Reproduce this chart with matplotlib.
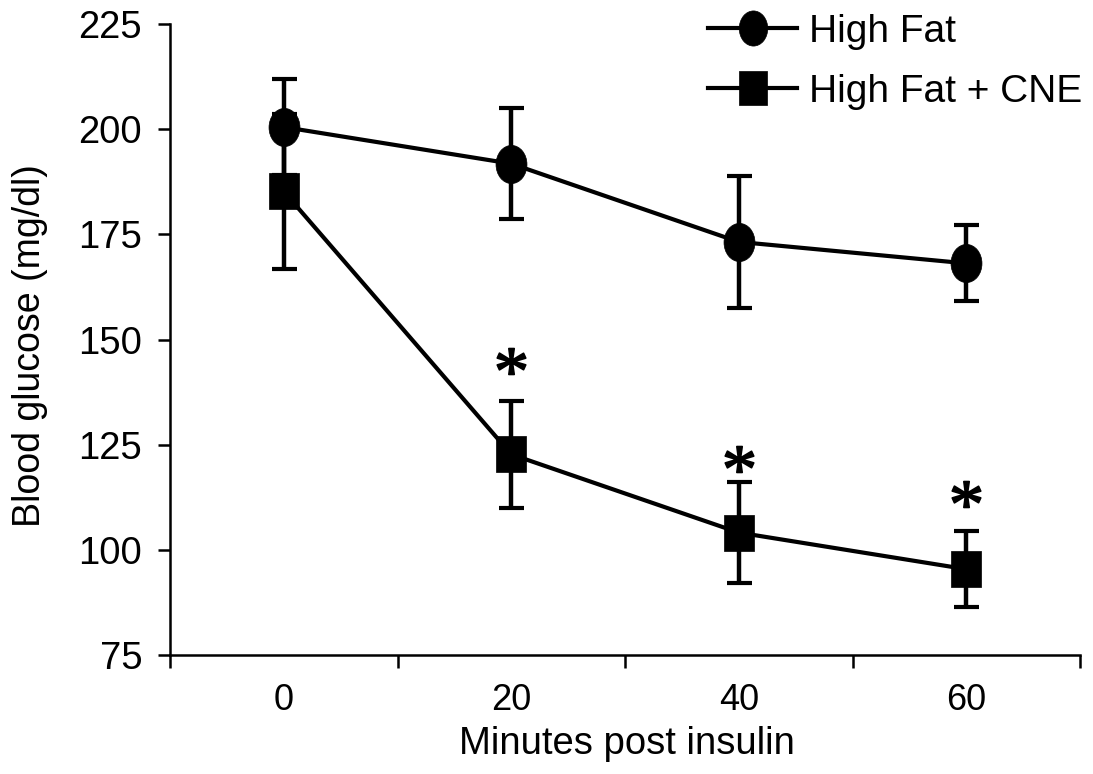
import matplotlib
matplotlib.use("Agg")
import matplotlib.pyplot as plt
import numpy as np
from matplotlib.path import Path
from matplotlib.textpath import TextPath
from matplotlib.font_manager import FontProperties
from matplotlib.ticker import FixedLocator, NullFormatter

# ---- data ----
minutes = [0, 20, 40, 60]
hf_mean = [200.5, 191.8, 173.2, 168.1]
hf_err = [11.5, 13.2, 15.7, 9.0]
cne_mean = [185.2, 122.7, 104.1, 95.4]
cne_err = [18.4, 12.7, 12.0, 9.0]
sig_minutes = [20, 40, 60]
sig_y = [144.8, 121.5, 113.2]
labels = ["High Fat", "High Fat + CNE"]
yticks = [75, 100, 125, 150, 175, 200, 225]
xsep_ticks = [-10, 10, 30, 50, 70]

SANS = ["Liberation Sans", "DejaVu Sans"]

# marker shapes (slightly taller than wide, as in the reference)
circ = Path.unit_circle()
ellipse_marker = Path(circ.vertices * np.array([0.81, 1.0]), circ.codes)
sq_verts = np.array([[-0.42, -0.5], [0.42, -0.5], [0.42, 0.5], [-0.42, 0.5], [-0.42, -0.5]])
square_marker = Path(sq_verts, [Path.MOVETO, Path.LINETO, Path.LINETO, Path.LINETO, Path.CLOSEPOLY])
tp = TextPath((0, 0), "*", prop=FontProperties(family=["Liberation Serif", "DejaVu Serif"]))
v = tp.vertices.copy()
bb = tp.get_extents()
v[:, 0] -= (bb.x0 + bb.x1) / 2
v[:, 1] -= (bb.y0 + bb.y1) / 2
star_marker = Path(v, tp.codes)

fig = plt.figure(figsize=(10.93, 7.74), dpi=100)
ax = fig.add_axes([170 / 1093, 1 - 655 / 774, 910 / 1093, 631 / 774])

# error bars
ax.errorbar(minutes, hf_mean, yerr=hf_err, fmt="none", ecolor="black",
            elinewidth=3.2, capsize=9, capthick=3.0, zorder=2)
ax.errorbar(minutes, cne_mean, yerr=cne_err, fmt="none", ecolor="black",
            elinewidth=3.2, capsize=9, capthick=3.0, zorder=2)

# lines + markers
ax.plot(minutes, hf_mean, color="black", lw=3, marker=ellipse_marker,
        markersize=27.5, mfc="black", mec="black", mew=0.5, label=labels[0], zorder=3)
ax.plot(minutes, cne_mean, color="black", lw=3, marker=square_marker,
        markersize=26.5, mfc="black", mec="black", mew=0.5, label=labels[1], zorder=3)

# significance asterisks
ax.plot(sig_minutes, sig_y, linestyle="none", marker=star_marker, markersize=48,
        mfc="black", mec="black", mew=1.2, zorder=4)

# axes
ax.set_xlim(-10, 70)
ax.set_ylim(75, 225)
for s in ["top", "right"]:
    ax.spines[s].set_visible(False)
for s in ["left", "bottom"]:
    ax.spines[s].set_linewidth(1.8)

ax.set_yticks(yticks)
ax.set_yticklabels([str(t) for t in yticks], fontfamily=SANS, fontsize=27.5)
ax.tick_params(axis="y", which="major", direction="out", length=9, width=1.8, pad=11)

ax.xaxis.set_major_locator(FixedLocator(xsep_ticks))
ax.xaxis.set_major_formatter(NullFormatter())
ax.xaxis.set_minor_locator(FixedLocator(minutes))
ax.set_xticklabels([str(m) for m in minutes], minor=True, fontfamily=SANS, fontsize=26)
ax.tick_params(axis="x", which="major", direction="out", length=9, width=1.8)
ax.tick_params(axis="x", which="minor", length=0, pad=20)

ax.set_xlabel("Minutes post insulin", fontfamily=SANS, fontsize=27.5)
ax.set_ylabel("Blood glucose (mg/dl)", fontfamily=SANS, fontsize=27)
ax.xaxis.set_label_coords(0.502, -0.112)
ax.yaxis.set_label_coords(-0.134, 0.49)

ax.legend(loc="upper left", bbox_to_anchor=(708 / 1093, 1 - 14 / 774),
          bbox_transform=fig.transFigure, frameon=False, borderpad=0,
          borderaxespad=0, handlelength=2.3, handletextpad=0.3,
          labelspacing=0.62, markerscale=0.92,
          prop=FontProperties(family=SANS, size=28))

fig.savefig("out.png", dpi=100)
